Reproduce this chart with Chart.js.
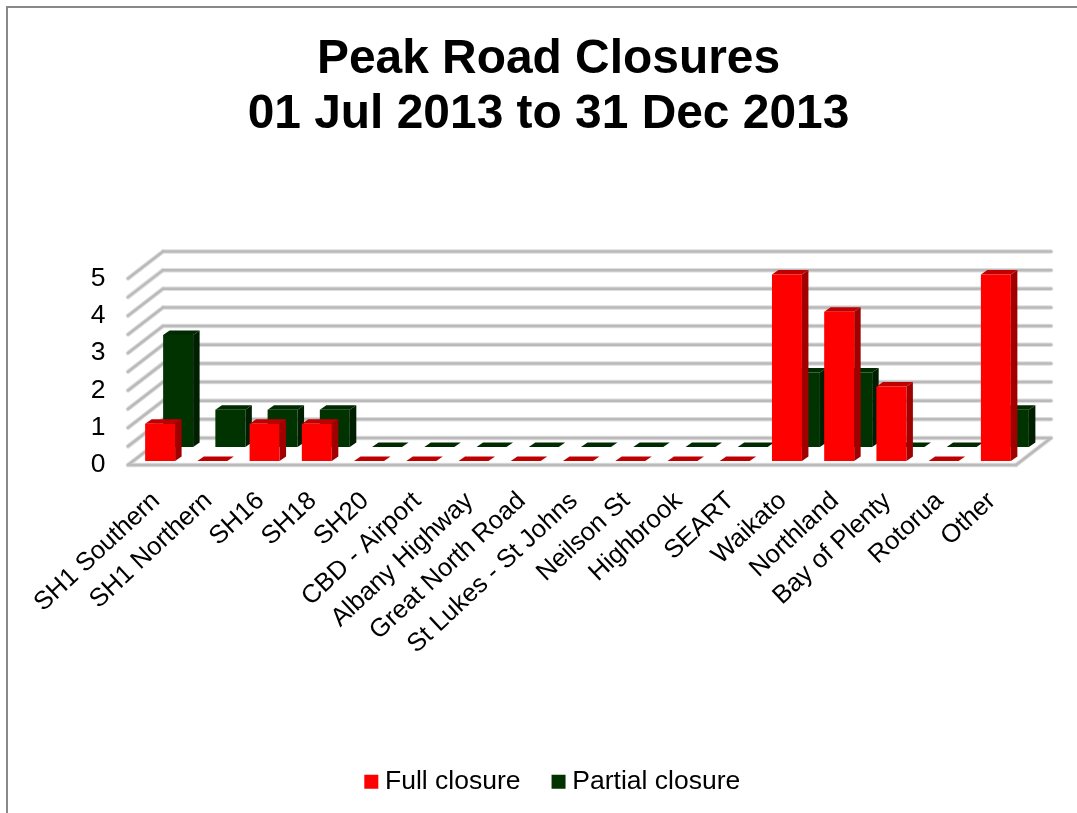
<!DOCTYPE html>
<html>
<head>
<meta charset="utf-8">
<style>
  html, body { margin: 0; padding: 0; background: #fff; }
  canvas { display: block; }
</style>
<script src="https://cdn.jsdelivr.net/npm/chart.js@4/dist/chart.umd.min.js"></script>
</head>
<body>
<canvas id="closures" width="1077" height="813"></canvas>
<script>
const categories = ['SH1 Southern', 'SH1 Northern', 'SH16', 'SH18', 'SH20', 'CBD - Airport',
  'Albany Highway', 'Great North Road', 'St Lukes - St Johns', 'Neilson St', 'Highbrook',
  'SEART', 'Waikato', 'Northland', 'Bay of Plenty', 'Rotorua', 'Other'];
const fullClosure = [1, 0, 1, 1, 0, 0, 0, 0, 0, 0, 0, 0, 5, 4, 2, 0, 5];
const partialClosure = [3, 1, 1, 1, 0, 0, 0, 0, 0, 0, 0, 0, 2, 2, 0, 0, 1];
const titleLines = ['Peak Road Closures', '01 Jul 2013 to 31 Dec 2013'];

const FONT = '"Liberation Sans", Arial, sans-serif';

// Projection of the fake 3D box, in canvas pixels.
const FLOOR_FRONT = { dx: -6, dy: 4 };      // front floor edge relative to the front bar row
const FLOOR_DEPTH = { dx: 35, dy: -27 };    // front edge to back wall
const ROW_OFFSET = [{ dx: 0, dy: 0 }, { dx: 18, dy: -14 }]; // per dataset
const BAR_DEPTH = { dx: 6.5, dy: -4.5 };

const faceColours = [
  { top: '#c00000', side: '#a00000' },
  { top: '#002a00', side: '#001e00' }
];

function line(ctx, x1, y1, x2, y2) {
  ctx.beginPath();
  ctx.moveTo(x1, y1);
  ctx.lineTo(x2, y2);
  ctx.stroke();
}

function poly(ctx, pts, fill) {
  ctx.beginPath();
  pts.forEach((p, i) => (i ? ctx.lineTo(p[0], p[1]) : ctx.moveTo(p[0], p[1])));
  ctx.closePath();
  ctx.fillStyle = fill;
  ctx.fill();
}

// Outer frame: only the top and left edges are visible on this page.
const framePlugin = {
  id: 'frame',
  beforeDraw(chart) {
    const { ctx, width, height } = chart;
    ctx.save();
    ctx.fillStyle = '#fff';
    ctx.fillRect(0, 0, width, height);
    ctx.fillStyle = '#888';
    ctx.fillRect(6, 6, width - 6, 2);
    ctx.fillRect(6, 6, 2, height - 6);
    ctx.restore();
  }
};

// Floor and walls, positioned from the value and category scales.
const wallsPlugin = {
  id: 'walls',
  beforeDatasetsDraw(chart) {
    const { ctx, chartArea: area, scales: { y } } = chart;
    const fl = area.left + FLOOR_FRONT.dx, fr = area.right + FLOOR_FRONT.dx;
    const { dx, dy } = FLOOR_DEPTH;
    ctx.save();
    ctx.lineCap = 'round';
    [['#dedede', 4.5], ['#bababa', 2.5]].forEach(([colour, width]) => {
      ctx.strokeStyle = colour;
      ctx.lineWidth = width;
      y.ticks.forEach(t => {
        const yFront = y.getPixelForValue(t.value) + FLOOR_FRONT.dy;
        line(ctx, fl, yFront, fl + dx, yFront + dy);
        line(ctx, fl + dx, yFront + dy, fr + dx, yFront + dy);
      });
      const y0 = y.getPixelForValue(0) + FLOOR_FRONT.dy;
      line(ctx, fl, y0, fr, y0);
      line(ctx, fr, y0, fr + dx, y0 + dy);
    });
    ctx.restore();
  },
  // Each series sits on its own row; side and top faces are built from the bar rectangles.
  beforeDatasetDraw(chart, args) {
    const { ctx } = chart;
    const off = ROW_OFFSET[args.index];
    const col = faceColours[args.index];
    const { dx, dy } = BAR_DEPTH;
    ctx.save();
    ctx.translate(off.dx, off.dy);
    args.meta.data.forEach(bar => {
      const l = bar.x - bar.width / 2, r = bar.x + bar.width / 2;
      const t = bar.y, b = bar.base;
      poly(ctx, [[r, t], [r + dx, t + dy], [r + dx, b + dy], [r, b]], col.side);
      poly(ctx, [[l, t], [l + dx, t + dy], [r + dx, t + dy], [r, t]], col.top);
    });
  },
  afterDatasetDraw(chart) {
    chart.ctx.restore();
  },
  // Nudge the legend a little right of the title's centre line.
  afterLayout(chart) {
    chart.legend.left += 7;
    chart.legend.right += 7;
    chart.legend.top += 1;
    chart.legend.bottom += 1;
  }
};

new Chart(document.getElementById('closures'), {
  type: 'bar',
  data: {
    labels: categories,
    datasets: [
      { label: 'Full closure', data: fullClosure, backgroundColor: '#ff0000', clip: false },
      { label: 'Partial closure', data: partialClosure, backgroundColor: '#003300', clip: false }
    ]
  },
  options: {
    responsive: false,
    animation: false,
    layout: { autoPadding: false, padding: { left: 75, right: 55, top: 0, bottom: 9 } },
    datasets: { bar: { grouped: false, categoryPercentage: 1, barPercentage: 0.574 } },
    scales: {
      x: {
        grid: { display: false },
        border: { display: false },
        ticks: {
          autoSkip: false, minRotation: 43, maxRotation: 43, padding: 17, labelOffset: -4,
          color: '#000', font: { family: FONT, size: 25.6 }
        },
        afterFit(scale) { scale.height = 269; }
      },
      y: {
        min: 0, max: 5,
        grid: { display: false },
        border: { display: false },
        ticks: {
          stepSize: 0.5, autoSkip: false, padding: 20.5, labelOffset: 4,
          color: '#000', font: { family: FONT, size: 26.5 },
          callback: v => (Number.isInteger(v) ? String(v) : '')
        },
        afterFit(scale) { scale.width = 59; }
      }
    },
    plugins: {
      tooltip: { enabled: false },
      title: {
        display: true,
        text: titleLines,
        color: '#000',
        font: { family: FONT, size: 47.9, weight: 'bold', lineHeight: 1.148 },
        padding: { top: 32.5, bottom: 132 }
      },
      legend: {
        position: 'bottom',
        labels: {
          usePointStyle: true, pointStyle: 'rect', boxWidth: 1, boxHeight: 14, padding: 37.5,
          color: '#000', font: { family: FONT, size: 26.5 }
        }
      }
    }
  },
  plugins: [framePlugin, wallsPlugin]
});
</script>
</body>
</html>
